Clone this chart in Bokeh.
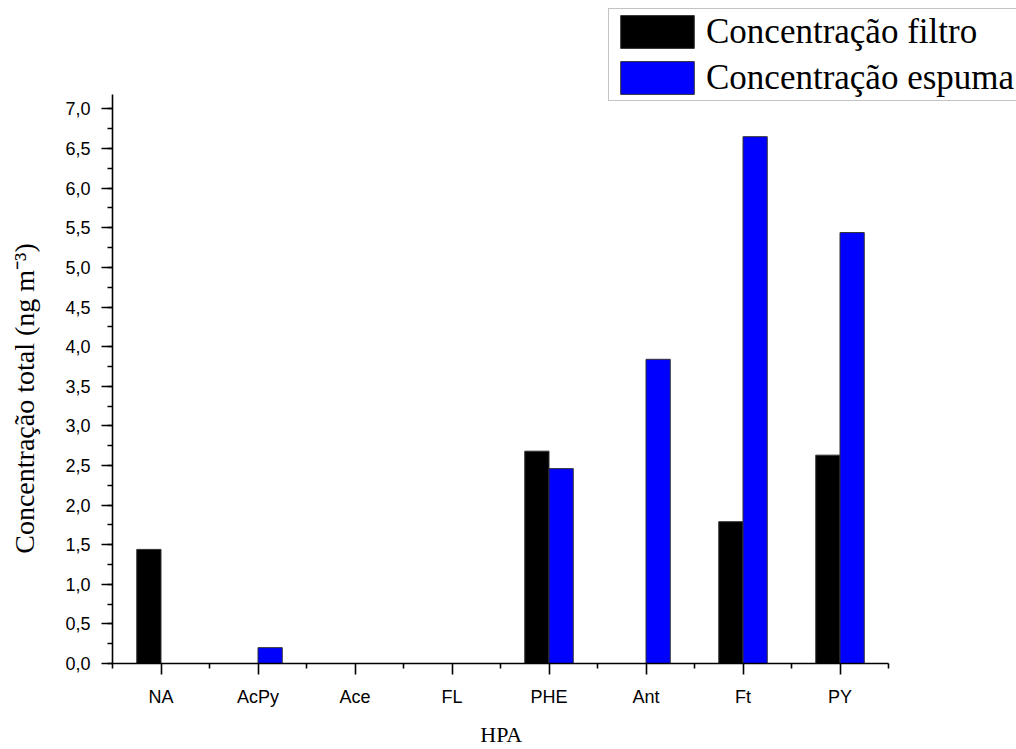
from bokeh.plotting import figure
from bokeh.models import (Range1d, FixedTicker, ColumnDataSource, Legend, LegendItem)
from bokeh.embed import file_html
from bokeh.resources import INLINE

categories = ["NA", "AcPy", "Ace", "FL", "PHE", "Ant", "Ft", "PY"]
filtro = [1.44, 0.0, 0.0, 0.0, 2.68, 0.0, 1.79, 2.63]
espuma = [0.0, 0.20, 0.0, 0.0, 2.46, 3.84, 6.65, 5.44]
y_ticks = [0.0, 0.5, 1.0, 1.5, 2.0, 2.5, 3.0, 3.5, 4.0, 4.5, 5.0, 5.5, 6.0, 6.5, 7.0]
y_tick_labels = ["0,0", "0,5", "1,0", "1,5", "2,0", "2,5", "3,0", "3,5",
                 "4,0", "4,5", "5,0", "5,5", "6,0", "6,5", "7,0"]
series_names = ["Concentração filtro", "Concentração espuma"]
x_title = "HPA"
y_title = "Concentração total (ng m⁻³)"

NBSP = "\u00a0"
n = len(categories)
centers = [i + 0.5 for i in range(n)]
bw = 0.25
y_axis_top = 7.18

# frame also covers the legend area (px per unit: x 97, y 79.7)
p = figure(width=1016, height=749, output_backend="svg", toolbar_location=None,
           x_range=Range1d(0, 904 / 97), y_range=Range1d(0, 667 / 79.7),
           min_border_left=112, min_border_right=0,
           min_border_top=0, min_border_bottom=82)
p.outline_line_color = None
p.xgrid.visible = False
p.ygrid.visible = False
p.background_fill_color = "white"
p.border_fill_color = "white"

src_f = ColumnDataSource(dict(x=[c - bw / 2 for c in centers], top=filtro))
src_e = ColumnDataSource(dict(x=[c + bw / 2 for c in centers], top=espuma))
r1 = p.vbar(x="x", top="top", bottom=0, width=bw, source=src_f,
            fill_color="black", line_color="#333333", line_width=1)
r2 = p.vbar(x="x", top="top", bottom=0, width=bw, source=src_e,
            fill_color="#0000FF", line_color="#333333", line_width=1)

# x axis (title padded so that it centres under the drawn axis, not the frame)
xa = p.xaxis[0]
xa.bounds = (0, n)
xa.ticker = FixedTicker(ticks=centers, minor_ticks=list(range(n + 1)))
xa.major_label_overrides = {c: lab for c, lab in zip(centers, categories)}
xa.axis_label = x_title + NBSP * 23
xa.axis_label_text_font = "Liberation Serif"
xa.axis_label_text_font_style = "normal"
xa.axis_label_text_font_size = "22px"
xa.axis_label_standoff = 12
xa.major_label_text_font = "Liberation Sans"
xa.major_label_text_font_size = "18px"
xa.major_label_standoff = 12

# y axis
ya = p.yaxis[0]
ya.bounds = (0, y_axis_top)
ya.ticker = FixedTicker(ticks=y_ticks, minor_ticks=[i * 0.25 for i in range(29)])
ya.major_label_overrides = {t: lab for t, lab in zip(y_ticks, y_tick_labels)}
ya.axis_label = y_title + NBSP * 19
ya.axis_label_text_font = "Liberation Serif"
ya.axis_label_text_font_style = "normal"
ya.axis_label_text_font_size = "28px"
ya.axis_label_standoff = 22
ya.major_label_text_font = "Liberation Sans"
ya.major_label_text_font_size = "18px"
ya.major_label_standoff = 11

for ax in (xa, ya):
    ax.axis_line_width = 1.6
    ax.axis_line_color = "black"
    ax.major_tick_line_width = 1.6
    ax.minor_tick_line_width = 1.6
    ax.major_tick_line_color = "black"
    ax.minor_tick_line_color = "black"
    ax.major_tick_out = 11
    ax.major_tick_in = 0
    ax.minor_tick_out = 5
    ax.minor_tick_in = 0
    ax.major_label_text_color = "black"
    ax.axis_label_text_color = "black"

legend = Legend(items=[LegendItem(label=series_names[0], renderers=[r1]),
                       LegendItem(label=series_names[1], renderers=[r2])],
                location=(496, 562))
legend.label_text_font = "Liberation Serif"
legend.label_text_font_size = "35px"
legend.label_text_color = "black"
legend.glyph_width = 92
legend.glyph_height = 41
legend.label_height = 41
legend.label_standoff = 3
legend.spacing = 5
legend.padding = 2
legend.margin = 0
legend.border_line_color = "#888888"
legend.border_line_width = 1.5
legend.background_fill_color = "white"
legend.background_fill_alpha = 1.0
p.add_layout(legend)

open("out.html", "w").write(file_html(p, INLINE))
